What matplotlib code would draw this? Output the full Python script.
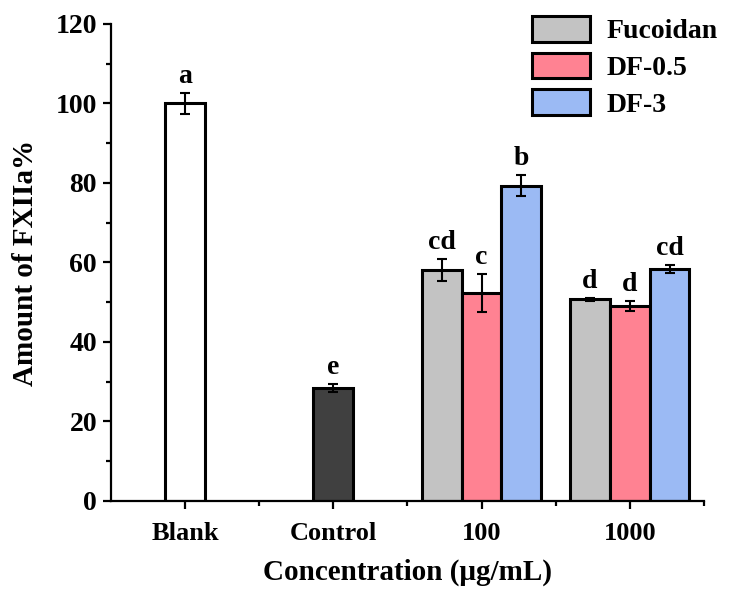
import matplotlib
matplotlib.use("Agg")
import matplotlib.pyplot as plt
import numpy as np
from matplotlib.ticker import MultipleLocator, FixedLocator

plt.rcParams["font.family"] = ["Liberation Serif", "DejaVu Serif"]
plt.rcParams["font.weight"] = "bold"

# data
categories = ["Blank", "Control", "100", "1000"]
single_labels = ["Blank", "Control"]
single_values = [100.0, 28.4]
single_errors = [2.7, 1.0]
single_letters = ["a", "e"]
single_colors = ["#ffffff", "#404040"]

series = ["Fucoidan", "DF-0.5", "DF-3"]
series_colors = ["#c3c3c3", "#ff8292", "#9bbaf4"]
group_labels = ["100", "1000"]
fucoidan = [58.1, 50.7]
fucoidan_err = [2.8, 0.3]
df05 = [52.3, 49.1]
df05_err = [4.7, 1.3]
df3 = [79.3, 58.3]
df3_err = [2.6, 1.0]
group_letters = [["cd", "d"], ["c", "d"], ["b", "cd"]]

fig = plt.figure(figsize=(7.32, 5.95), dpi=100)
ax = fig.add_axes([0.1516, 0.158, 0.8101, 0.8017])

width = 0.268
err_kw = dict(ecolor="black", elinewidth=1.5, capsize=3.5, capthick=1.5)
label_size = 20

x_single = np.arange(1, len(single_labels) + 1)
ax.bar(x_single, single_values, width, yerr=single_errors, color=single_colors,
       edgecolor="black", linewidth=2.2, error_kw=err_kw, zorder=2)
for x, v, e, t in zip(x_single, single_values, single_errors, single_letters):
    ax.text(x, v + e + 1.0, t, ha="center", va="bottom", fontsize=label_size, fontweight="bold")

x_group = np.arange(3, 3 + len(group_labels))
values = [fucoidan, df05, df3]
errors = [fucoidan_err, df05_err, df3_err]
for i, (name, vals, errs, col) in enumerate(zip(series, values, errors, series_colors)):
    xs = x_group + (i - 1) * width
    ax.bar(xs, vals, width, yerr=errs, color=col, edgecolor="black", linewidth=2.2,
           error_kw=err_kw, label=name, zorder=2)
    for x, v, e, t in zip(xs, vals, errs, group_letters[i]):
        ax.text(x, v + e + 1.0, t, ha="center", va="bottom", fontsize=label_size, fontweight="bold")

ax.set_xlim(0.5, 4.5)
ax.set_ylim(0, 120)
ax.set_xticks(np.arange(1, 5))
ax.set_xticklabels(categories)
ax.xaxis.set_minor_locator(FixedLocator([1.5, 2.5, 3.5, 4.5]))
ax.yaxis.set_major_locator(MultipleLocator(20))
ax.yaxis.set_minor_locator(MultipleLocator(10))

for side in ["top", "right"]:
    ax.spines[side].set_visible(False)
for side in ["left", "bottom"]:
    ax.spines[side].set_linewidth(1.6)

ax.tick_params(which="major", direction="out", length=6, width=1.6, labelsize=20, pad=4)
ax.tick_params(axis="x", which="major", labelsize=19, pad=9)
ax.tick_params(which="minor", direction="out", length=3.5, width=1.6)
for lab in ax.get_xticklabels() + ax.get_yticklabels():
    lab.set_fontweight("bold")

ax.set_xlabel("Concentration (μg/mL)", fontsize=21, fontweight="bold", labelpad=10)
ax.set_ylabel("Amount of FXIIa%", fontsize=21, fontweight="bold", labelpad=12)

leg = ax.legend(loc="upper left", bbox_to_anchor=(531.7 / 732, 1 - 16.0 / 595),
                bbox_transform=fig.transFigure, frameon=False, fontsize=20,
                handlelength=2.1, handleheight=1.05, handletextpad=0.6,
                labelspacing=0.3, borderpad=0, borderaxespad=0)
for h in leg.legend_handles:
    h.set_linewidth(2.2)
for t in leg.get_texts():
    t.set_fontweight("bold")

fig.savefig("out.png", dpi=100)
